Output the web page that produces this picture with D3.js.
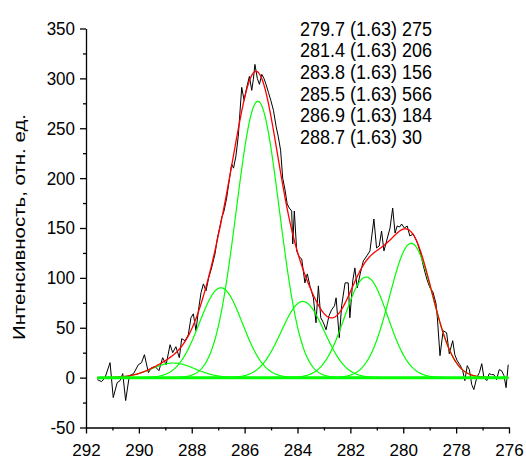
<!DOCTYPE html>
<html><head><meta charset="utf-8">
<script src="https://cdn.jsdelivr.net/npm/d3@7"></script>
<style>
html,body{margin:0;padding:0;background:#fff;}
svg text{font-family:"Liberation Sans",Arial,sans-serif;fill:#000;}
</style></head>
<body>
<script>
// Peak parameters (legend: center (width) area)
const peakCenters = [279.7, 281.4, 283.8, 285.5, 286.9, 288.7];
const peakWidths  = [1.63, 1.63, 1.63, 1.63, 1.63, 1.63];
const peakAreas   = [275, 206, 156, 566, 184, 30];

const dataEnergy = [291.57,291.41,291.28,291.09,290.97,290.82,290.71,290.61,290.50,290.36,290.20,290.02,289.90,289.79,289.64,289.52,289.38,289.24,289.10,288.97,288.82,288.72,288.60,288.47,288.38,288.25,288.13,288.03,287.94,287.84,287.75,287.65,287.56,287.46,287.36,287.25,287.12,287.03,286.93,286.87,286.78,286.68,286.57,286.49,286.42,286.33,286.24,286.11,286.02,285.92,285.82,285.73,285.67,285.61,285.52,285.44,285.35,285.27,285.19,285.10,285.01,284.91,284.81,284.73,284.64,284.56,284.47,284.39,284.31,284.22,284.18,284.12,284.03,283.93,283.84,283.72,283.63,283.53,283.40,283.30,283.21,283.12,283.02,282.92,282.81,282.71,282.60,282.54,282.42,282.33,282.20,282.08,282.02,281.91,281.83,281.74,281.63,281.51,281.38,281.26,281.11,281.01,280.91,280.82,280.73,280.63,280.50,280.40,280.31,280.23,280.14,280.06,279.96,279.85,279.75,279.62,279.49,279.37,279.22,279.11,278.99,278.88,278.76,278.71,278.61,278.49,278.36,278.26,278.13,278.05,277.96,277.86,277.75,277.67,277.58,277.50,277.41,277.33,277.22,277.12,277.03,276.95,276.84,276.75,276.66,276.57,276.47,276.37,276.28,276.19,276.11,276.03];
const dataIntensity = [-2,-4,0,15,-20,-5,-3,4,-23,2,4,13,15,23,5,10,11,7,20,13,33,25,31,20,39,37,43,60,64,47,67,85,94,87,100,110,124,140,152,160,167,180,200,214,210,222,242,291,278,291,302,288,299,314,300,294,304,300,294,286,278,268,252,242,228,200,188,174,170,167,134,167,127,121,119,95,104,92,80,55,92,60,55,48,62,68,72,80,40,72,95,95,60,97,110,90,104,117,122,127,159,130,132,147,127,137,150,170,145,152,151,154,150,152,142,144,137,127,110,99,90,86,74,60,22,47,45,24,37,23,17,13,7,-3,12,8,-7,-12,0,5,14,0,-3,4,3,3,-2,8,7,2,-10,13];

// Axis ticks
const xTicks = [292, 290, 288, 286, 284, 282, 280, 278, 276];
const xMinorTicks = [291, 289, 287, 285, 283, 281, 279, 277];
const yTicks = [-50, 0, 50, 100, 150, 200, 250, 300, 350];
const yMinorTicks = [-25, 25, 75, 125, 175, 225, 275, 325];
const yLabel = "Интенсивность, отн. ед.";

const W = 526, H = 461;
const svg = d3.select("body").append("svg").attr("width", W).attr("height", H);
svg.append("rect").attr("width", W).attr("height", H).attr("fill", "#fff");

const x = d3.scaleLinear().domain([292, 276]).range([86, 509]);
const y = d3.scaleLinear().domain([-50, 350]).range([427.5, 28.5]);

// Origin-style Gaussian: y = A/(w*sqrt(pi/2)) * exp(-2(x-xc)^2/w^2)
function gauss(i, e) {
  const w = peakWidths[i];
  return peakAreas[i] / (w * Math.sqrt(Math.PI / 2)) * Math.exp(-2 * (e - peakCenters[i]) ** 2 / (w * w));
}
const eMin = d3.min(dataEnergy), eMax = d3.max(dataEnergy);
const grid = d3.range(eMax, eMin - 0.001, -0.02);

// Axes
const fontSize = 17;
const fmt = d => String(d);
const gx = svg.append("g").attr("transform", `translate(0,${y(-50)})`);
gx.call(d3.axisBottom(x).tickValues(xTicks).tickSize(6).tickSizeOuter(0).tickPadding(10.5).tickFormat(fmt));
const gxm = svg.append("g").attr("transform", `translate(0,${y(-50)})`);
gxm.call(d3.axisBottom(x).tickValues(xMinorTicks).tickSize(3).tickSizeOuter(0).tickFormat(""));
gxm.select(".domain").remove();

const gy = svg.append("g").attr("transform", `translate(${x(292)},0)`);
gy.call(d3.axisLeft(y).tickValues(yTicks).tickSize(6).tickSizeOuter(0).tickPadding(5).tickFormat(fmt));
const gym = svg.append("g").attr("transform", `translate(${x(292)},0)`);
gym.call(d3.axisLeft(y).tickValues(yMinorTicks).tickSize(3).tickSizeOuter(0).tickFormat(""));
gym.select(".domain").remove();

svg.selectAll(".domain, .tick line").attr("stroke", "#000").attr("stroke-width", 1.3);
svg.selectAll(".tick text").attr("font-size", fontSize).attr("font-family", '"Liberation Sans",Arial,sans-serif').attr("fill", "#000");
gy.selectAll(".tick text").attr("transform", "scale(1,1.1)");

// Y label
svg.append("text")
  .attr("transform", `translate(25,${227}) rotate(-90)`)
  .attr("text-anchor", "middle")
  .attr("font-size", 16)
  .attr("textLength", 226)
  .attr("lengthAdjust", "spacingAndGlyphs")
  .text(yLabel);

// Data line
const line = d3.line().x(d => x(d[0])).y(d => y(d[1]));
const dataPts = dataEnergy.map((e, i) => [e, dataIntensity[i]]);
svg.append("path").datum(dataPts).attr("d", line)
  .attr("fill", "none").attr("stroke", "#000").attr("stroke-width", 1);

// Components
peakCenters.forEach((c, i) => {
  svg.append("path").datum(grid.map(e => [e, gauss(i, e)])).attr("d", line)
    .attr("fill", "none").attr("stroke", "#00ff00").attr("stroke-width", 1.2);
});

// Envelope
svg.append("path").datum(grid.map(e => [e, d3.sum(peakCenters, (c, i) => gauss(i, e))])).attr("d", line)
  .attr("fill", "none").attr("stroke", "#ff0000").attr("stroke-width", 1.3);

// Baseline
svg.append("path").datum([[eMax, 0], [eMin, 0]]).attr("d", line)
  .attr("fill", "none").attr("stroke", "#00ff00").attr("stroke-width", 3);

// Legend text
const lg = svg.append("g");
peakCenters.forEach((c, i) => {
  const by = 35.5 + i * 21.7;
  lg.append("text").attr("x", 0).attr("y", 0)
    .attr("transform", `translate(300,${by}) scale(1,1.1)`)
    .attr("font-size", 18)
    .text(`${c.toFixed(1)} (${peakWidths[i].toFixed(2)}) ${peakAreas[i]}`);
});
</script>
</body></html>
